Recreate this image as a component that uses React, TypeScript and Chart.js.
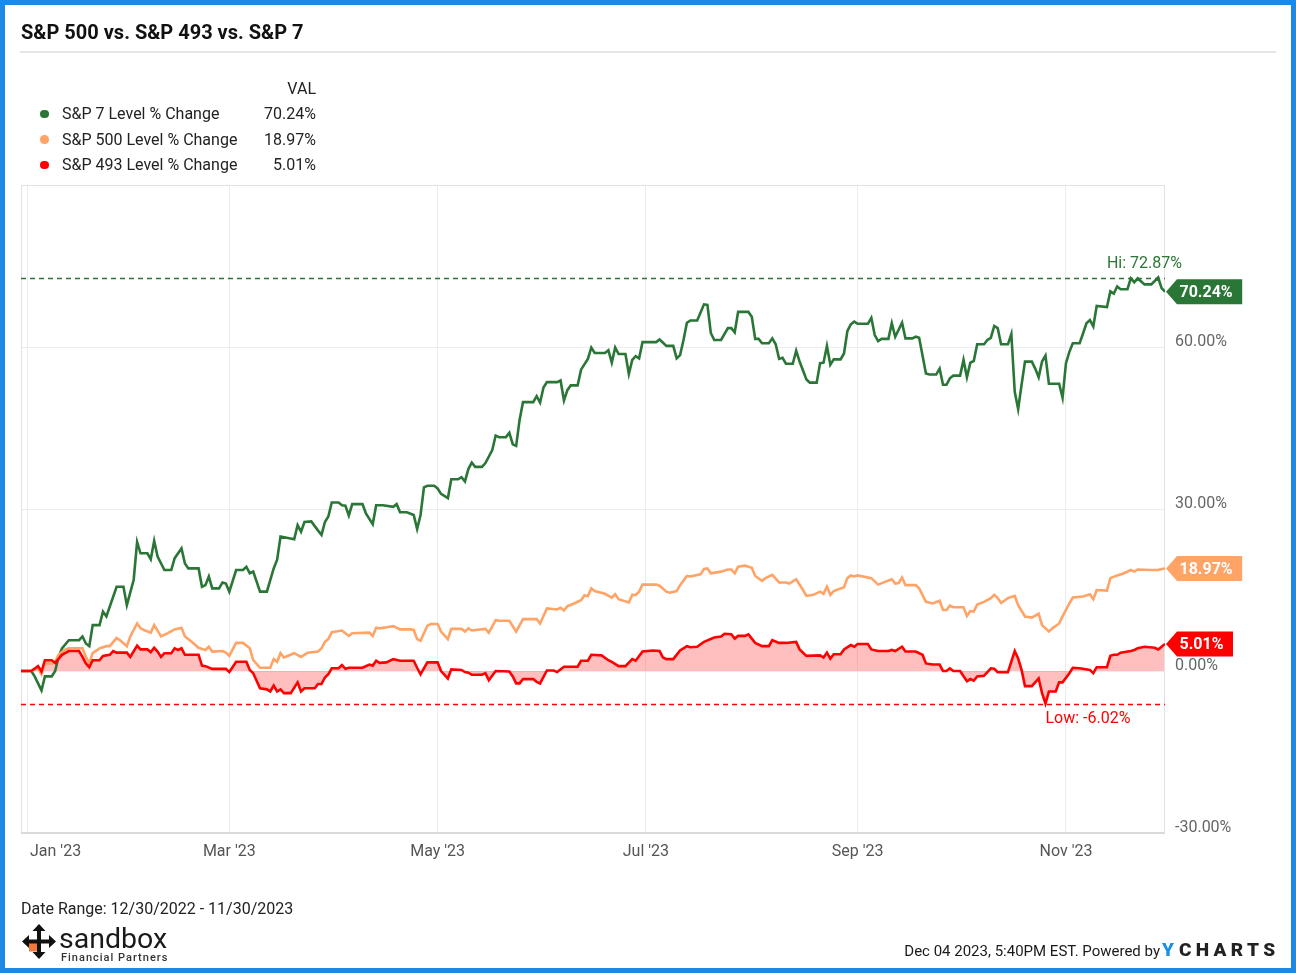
import React, { useEffect, useRef } from 'react';
import { Chart, registerables } from 'chart.js';

Chart.register(...registerables);

// ---------- data ----------
// x values are calendar days since 12/30/2022
const monthTickDays = [2, 61, 122, 183, 245, 306];
const monthTickLabels = ["Jan '23", "Mar '23", "May '23", "Jul '23", "Sep '23", "Nov '23"];

const seriesNames = ['S&P 7 Level % Change', 'S&P 500 Level % Change', 'S&P 493 Level % Change'];
const seriesColors = ['#2a7636', '#ffa366', '#ff0000'];

const sp7Days = [
  0, 3, 4, 6, 7, 9, 10, 11, 12, 14,
  17, 18, 19, 20, 21, 23, 24, 25, 28, 30,
  31, 33, 34, 35, 37, 38, 39, 40, 42, 44,
  45, 47, 48, 49, 52, 53, 54, 55, 56, 58,
  59, 60, 61, 63, 65, 66, 67, 68, 70, 72,
  74, 75, 76, 80, 81, 82, 83, 85, 87, 88,
  89, 90, 91, 93, 94, 95, 96, 97, 100, 101,
  103, 104, 106, 109, 110, 111, 113, 115, 116, 117,
  118, 119, 121, 122, 123, 125, 126, 128, 129, 130,
  131, 132, 133, 135, 136, 138, 139, 140, 142, 143,
  144, 145, 146, 147, 150, 151, 152, 153, 154, 157,
  158, 159, 160, 161, 163, 164, 166, 167, 168, 171,
  172, 173, 174, 175, 177, 178, 179, 180, 181, 182,
  186, 187, 189, 191, 192, 193, 194, 195, 196, 198,
  199, 200, 201, 202, 203, 205, 207, 208, 209, 210,
  213, 214, 215, 216, 217, 219, 220, 221, 222, 223,
  224, 226, 227, 228, 230, 231, 233, 234, 235, 236,
  237, 238, 240, 241, 242, 243, 244, 245, 248, 249,
  250, 251, 252, 254, 255, 256, 258, 259, 261, 262,
  263, 265, 266, 268, 269, 270, 271, 272, 273, 275,
  276, 277, 278, 279, 280, 282, 283, 284, 285, 286,
  287, 289, 290, 291, 292, 293, 294, 296, 297, 298,
  299, 300, 301, 304, 305, 306, 307, 308, 310, 311,
  312, 313, 314, 315, 318, 319, 320, 321, 322, 324,
  325, 326, 327, 329, 331, 333, 334, 335,
];
const sp7Values = [
  0, 0, -1.0, -3.6, -1.0, -1.0, 0, 2.6, 4.2, 5.7,
  5.7, 6.4, 5.1, 4.6, 8.5, 8.5, 11.0, 10.1, 15.6, 15.6,
  12.2, 16.9, 23.9, 21.8, 21.8, 20.7, 24.1, 21.2, 18.7, 18.7,
  20.9, 22.7, 19.9, 19.0, 19.0, 15.6, 15.9, 17.5, 15.3, 15.3,
  16.4, 16.2, 14.7, 18.7, 18.7, 19.3, 18.1, 18.4, 14.7, 14.7,
  19.0, 20.6, 24.9, 24.4, 27.0, 25.8, 27.6, 27.7, 26.0, 25.2,
  27.6, 28.6, 31.2, 31.2, 30.7, 30.6, 28.8, 30.9, 30.9, 29.2,
  27.2, 30.7, 30.7, 30.4, 30.9, 29.4, 29.4, 28.9, 26.3, 28.9,
  34.0, 34.3, 34.3, 33.8, 32.8, 32.0, 35.5, 35.5, 35.9, 35.1,
  37.4, 38.6, 37.8, 37.8, 38.5, 40.9, 43.6, 43.3, 43.3, 44.1,
  42.0, 41.7, 46.5, 49.8, 49.8, 50.9, 49.7, 52.5, 53.5, 53.5,
  53.8, 50.1, 52.0, 52.9, 52.9, 55.8, 57.8, 59.9, 58.9, 58.9,
  59.4, 57.1, 59.9, 58.7, 58.7, 55.0, 57.6, 58.3, 57.9, 60.9,
  60.9, 61.4, 60.2, 60.2, 57.9, 58.5, 61.3, 64.5, 64.9, 64.9,
  66.4, 67.9, 67.8, 62.6, 61.3, 61.3, 63.5, 63.5, 62.7, 66.5,
  66.5, 65.6, 61.5, 61.5, 60.7, 60.7, 61.6, 60.5, 57.8, 58.0,
  56.9, 56.9, 59.3, 57.3, 54.0, 53.4, 53.4, 57.0, 57.1, 60.2,
  56.7, 57.7, 57.7, 58.8, 63.0, 64.2, 64.7, 64.3, 64.3, 65.4,
  62.2, 61.1, 61.5, 61.5, 64.4, 61.9, 64.5, 61.6, 61.6, 61.9,
  61.7, 55.1, 54.9, 54.9, 56.0, 53.0, 53.0, 54.2, 54.7, 54.7,
  57.6, 54.4, 57.1, 57.4, 60.5, 60.5, 61.3, 61.7, 63.9, 63.5,
  60.5, 60.5, 62.4, 51.7, 48.5, 53.0, 57.3, 57.3, 56.0, 54.4,
  57.3, 58.4, 53.2, 53.2, 50.6, 57.0, 59.1, 60.7, 60.7, 62.5,
  64.4, 65.0, 63.8, 67.6, 67.4, 70.3, 69.9, 71.2, 70.7, 70.7,
  72.7, 72.0, 72.7, 71.6, 71.6, 72.87, 70.9, 70.24,
];

const sp500Days = [
  0, 3, 5, 6, 7, 9, 10, 11, 13, 14,
  18, 19, 20, 21, 23, 25, 26, 28, 29, 31,
  32, 34, 35, 36, 38, 39, 41, 43, 45, 47,
  48, 50, 52, 54, 55, 56, 59, 60, 61, 63,
  65, 67, 68, 70, 73, 74, 75, 76, 77, 80,
  82, 84, 87, 88, 89, 90, 91, 94, 96, 97,
  102, 103, 104, 105, 108, 109, 111, 114, 115, 116,
  117, 119, 120, 122, 123, 125, 126, 129, 130, 131,
  132, 136, 137, 139, 140, 143, 145, 147, 151, 152,
  154, 157, 158, 159, 160, 162, 164, 165, 166, 167,
  168, 171, 173, 174, 175, 178, 179, 180, 181, 182,
  186, 187, 189, 190, 192, 193, 195, 196, 199, 200,
  201, 202, 205, 207, 208, 209, 210, 212, 214, 215,
  217, 218, 220, 222, 224, 225, 227, 229, 230, 232,
  234, 235, 236, 237, 238, 241, 242, 243, 244, 245,
  249, 251, 253, 255, 256, 257, 258, 259, 262, 263,
  265, 267, 269, 270, 271, 272, 273, 276, 277, 278,
  279, 280, 282, 284, 285, 286, 287, 289, 291, 292,
  294, 296, 298, 299, 301, 302, 304, 305, 307, 308,
  311, 313, 314, 315, 318, 319, 321, 323, 325, 326,
  327, 331, 333, 334, 335,
];
const sp500Values = [
  0, 0, 0.5, -0.6, 1.4, 1.4, 1.7, 3.0, 4.0, 4.2,
  4.2, 2.6, 1.4, 3.3, 4.2, 4.6, 4.6, 6.1, 5.7, 4.6,
  6.4, 8.8, 7.9, 7.6, 7.1, 8.5, 6.4, 7.0, 7.7, 8.0,
  6.4, 5.4, 4.3, 3.9, 4.5, 3.6, 3.7, 3.4, 2.8, 5.2,
  5.2, 4.2, 2.0, 0.6, 0.6, 2.2, 1.7, 3.3, 2.5, 3.3,
  2.6, 3.4, 3.6, 4.2, 5.4, 5.9, 7.2, 7.5, 6.5, 7.0,
  7.1, 6.5, 8.0, 7.9, 8.2, 8.3, 7.7, 7.7, 7.6, 5.9,
  5.6, 8.4, 8.7, 8.7, 7.3, 5.9, 7.8, 7.8, 7.3, 7.9,
  7.5, 7.8, 7.1, 9.4, 9.3, 9.3, 7.3, 9.6, 9.6, 8.8,
  11.6, 11.4, 11.7, 11.2, 12.0, 12.5, 13.1, 14.0, 13.9, 15.3,
  14.8, 14.3, 13.6, 14.2, 13.3, 12.7, 14.1, 14.1, 14.7, 16.0,
  16.0, 15.8, 14.7, 14.5, 14.8, 15.9, 17.6, 17.5, 17.9, 18.9,
  19.0, 18.1, 18.4, 18.8, 18.8, 18.1, 19.3, 19.5, 19.1, 17.6,
  16.7, 17.2, 17.8, 16.4, 16.4, 16.2, 17.0, 15.0, 13.9, 14.1,
  14.7, 14.3, 15.6, 14.1, 14.8, 15.5, 17.2, 17.7, 17.5, 17.7,
  17.2, 16.0, 16.5, 17.0, 16.2, 16.3, 17.3, 15.9, 15.9, 15.3,
  12.8, 12.5, 13.0, 11.3, 11.3, 12.1, 11.8, 11.8, 10.2, 11.1,
  11.0, 12.3, 12.8, 13.5, 14.1, 13.5, 12.6, 13.5, 13.9, 12.2,
  10.1, 9.9, 10.6, 8.5, 7.3, 7.9, 8.8, 10.1, 12.5, 13.6,
  13.8, 14.2, 13.3, 15.0, 14.9, 17.2, 17.7, 18.1, 18.7, 18.4,
  18.8, 18.7, 18.7, 18.9, 18.97,
];

const sp493Days = [
  0, 3, 5, 6, 7, 9, 10, 12, 14, 17,
  18, 19, 20, 21, 23, 24, 26, 27, 28, 31,
  32, 34, 35, 37, 38, 39, 40, 41, 42, 44,
  45, 46, 47, 48, 52, 53, 54, 56, 60, 61,
  63, 66, 67, 68, 70, 72, 73, 74, 75, 76,
  77, 79, 81, 82, 83, 86, 87, 88, 89, 90,
  91, 93, 94, 95, 96, 100, 102, 103, 104, 105,
  107, 109, 111, 115, 116, 117, 119, 122, 123, 125,
  126, 129, 130, 131, 132, 135, 136, 137, 139, 143,
  144, 145, 146, 147, 150, 151, 152, 154, 156, 157,
  159, 163, 164, 166, 167, 170, 172, 173, 175, 177,
  179, 180, 182, 185, 187, 188, 189, 191, 193, 195,
  196, 198, 200, 203, 205, 206, 208, 209, 210, 212,
  213, 214, 215, 217, 219, 220, 222, 224, 227, 228,
  230, 234, 235, 236, 237, 238, 240, 241, 243, 244,
  245, 248, 249, 251, 254, 255, 256, 258, 259, 262,
  264, 265, 267, 269, 270, 271, 272, 273, 275, 277,
  278, 279, 280, 282, 284, 285, 286, 289, 291, 292,
  293, 294, 296, 298, 299, 300, 301, 303, 304, 305,
  307, 308, 310, 313, 314, 315, 318, 319, 320, 321,
  322, 325, 326, 327, 329, 332, 333, 334, 335,
];
const sp493Values = [
  0, 0, 0.9, -0.1, 2.0, 2.0, 1.5, 3.0, 3.7, 3.7,
  2.6, 1.4, 0.7, 2.0, 2.0, 2.8, 3.0, 3.7, 3.4, 3.4,
  2.6, 4.7, 4.0, 4.0, 3.5, 4.3, 3.6, 2.6, 3.3, 3.3,
  4.2, 3.9, 4.2, 3.0, 3.0, 1.0, 0.9, 0.4, 0.4, -0.2,
  1.7, 1.7, 0.2, -0.4, -3.2, -3.4, -3.8, -2.7, -3.8, -3.4,
  -4.1, -4.1, -2.1, -3.8, -3.2, -3.2, -2.4, -2.4, -1.2, -0.6,
  0.5, 0.5, 1.1, 0.4, 0.6, 0.6, 1.2, 1.0, 1.9, 1.5,
  1.6, 2.2, 1.9, 1.9, 0.6, -0.6, 1.6, 1.6, 0.0, -1.4,
  0.3, 0.2, -0.2, -0.3, -0.7, -0.7, -0.4, -1.7, 0.0, -0.1,
  -1.0, -2.3, -2.3, -1.5, -1.5, -2.0, -2.3, 0.1, 0.1, -0.2,
  0.8, 0.8, 1.9, 1.9, 3.0, 2.9, 2.0, 1.7, 0.9, 0.9,
  2.2, 1.9, 3.6, 3.8, 3.7, 2.5, 2.2, 2.2, 3.8, 4.6,
  4.4, 4.5, 5.4, 6.2, 6.4, 6.9, 6.8, 6.0, 6.5, 6.5,
  6.8, 6.0, 5.2, 4.6, 4.6, 5.7, 5.2, 5.2, 5.4, 4.0,
  2.8, 2.9, 2.5, 3.4, 2.3, 3.1, 3.1, 4.0, 4.8, 4.5,
  5.0, 5.0, 4.0, 3.7, 3.7, 3.9, 3.7, 4.5, 3.6, 3.6,
  3.0, 1.4, 1.2, 1.2, 0.0, 0.0, 0.5, 0.0, 0.0, -1.9,
  -1.5, -1.8, -1.0, -0.9, 0.5, 0.4, -0.2, -0.2, 3.7, 2.3,
  0.2, -2.8, -2.8, -1.4, -4.1, -6.02, -3.8, -3.8, -2.1, -2.1,
  -0.4, 0.6, 0.5, 0.2, -0.4, 0.7, 0.7, 2.8, 3.0, 3.0,
  3.4, 3.7, 3.9, 4.2, 4.5, 4.3, 4.0, 4.5, 5.01,
];

const FONT = 'Roboto';

const toPoints = (days: number[], values: number[]) => days.map((d, i) => ({ x: d, y: values[i] }));
const lastOf = (a: number[]) => a[a.length - 1];
const fmtPct = (v: number) => v.toFixed(2) + '%';

const overlayPlugin = {
  id: 'overlay',
  beforeDatasetsDraw(chart: any) {
    const { ctx, chartArea: a } = chart;
    ctx.save();
    ctx.strokeStyle = '#e2e2e2';
    ctx.lineWidth = 1;
    ctx.strokeRect(a.left + 0.5, a.top + 0.5, a.right - a.left - 1, a.bottom - a.top - 1);
    ctx.strokeStyle = '#dadada';
    ctx.lineWidth = 2;
    ctx.beginPath();
    ctx.moveTo(a.left, a.bottom);
    ctx.lineTo(a.right, a.bottom);
    ctx.stroke();
    ctx.restore();
  },
  afterDatasetsDraw(chart: any) {
    const { ctx, chartArea: a, scales } = chart;
    const xs = scales.x;
    const ys = scales.y;
    ctx.save();

    // Hi line (S&P 7) and Low line (S&P 493)
    const hi = Math.max(...sp7Values);
    const hiIdx = sp7Values.lastIndexOf(hi);
    const lo = Math.min(...sp493Values);
    const loIdx = sp493Values.indexOf(lo);
    const hiY = Math.round(ys.getPixelForValue(hi)) + 0.5;
    const loY = Math.round(ys.getPixelForValue(lo)) + 0.5;
    ctx.setLineDash([5, 4]);
    ctx.lineWidth = 1.3;
    ctx.strokeStyle = seriesColors[0];
    ctx.beginPath();
    ctx.moveTo(a.left, hiY);
    ctx.lineTo(a.right, hiY);
    ctx.stroke();
    ctx.strokeStyle = seriesColors[2];
    ctx.beginPath();
    ctx.moveTo(a.left, loY);
    ctx.lineTo(a.right, loY);
    ctx.stroke();
    ctx.setLineDash([]);

    ctx.font = `16px ${FONT}`;
    ctx.textBaseline = 'alphabetic';
    ctx.textAlign = 'left';
    const hiText = 'Hi: ' + fmtPct(hi);
    const hiW = ctx.measureText(hiText).width;
    const hiX = Math.min(xs.getPixelForValue(sp7Days[hiIdx]), a.right + 17 - hiW);
    ctx.fillStyle = seriesColors[0];
    ctx.fillText(hiText, hiX, hiY - 10.5);
    const loText = 'Low: ' + fmtPct(lo);
    const loW = ctx.measureText(loText).width;
    const loX = Math.min(xs.getPixelForValue(sp493Days[loIdx]), a.right + 17 - loW);
    ctx.fillStyle = seriesColors[2];
    ctx.fillText(loText, loX, loY + 18.5);

    // end-value tags
    const ends = [lastOf(sp7Values), lastOf(sp500Values), lastOf(sp493Values)];
    ctx.font = `bold 16px ${FONT}`;
    ctx.textBaseline = 'middle';
    ctx.textAlign = 'center';
    ends.forEach((v, i) => {
      const y = ys.getPixelForValue(v);
      const text = fmtPct(v);
      const w = ctx.measureText(text).width;
      const tip = a.right + 1;
      const boxL = tip + 11;
      const boxR = tip + w + 23;
      const h = 12.5;
      ctx.fillStyle = seriesColors[i];
      ctx.beginPath();
      ctx.moveTo(tip, y);
      ctx.lineTo(boxL, y - h);
      ctx.lineTo(boxR, y - h);
      ctx.lineTo(boxR, y + h);
      ctx.lineTo(boxL, y + h);
      ctx.closePath();
      ctx.fill();
      ctx.fillStyle = '#ffffff';
      ctx.fillText(text, (tip + boxR) / 2 + 2, y + 1);
    });
    ctx.restore();
  },
  afterDraw(chart: any) {
    const { ctx, chartArea: a, scales } = chart;
    const xs = scales.x;
    ctx.save();
    ctx.font = `16px ${FONT}`;
    ctx.fillStyle = '#555555';
    ctx.textAlign = 'center';
    ctx.textBaseline = 'alphabetic';
    monthTickDays.forEach((d, i) => {
      const text = monthTickLabels[i];
      const w = ctx.measureText(text).width;
      let cx = xs.getPixelForValue(d);
      if (cx - w / 2 < a.left + 9) cx = a.left + 9 + w / 2;
      ctx.fillText(text, cx, a.bottom + 23);
    });
    ctx.restore();
  },
};

function SandboxIcon() {
  return (
    <svg width={34} height={35} viewBox="0 0 34 35" style={{ position: 'absolute', left: 22, top: 924 }}>
      <rect x={7} y={18} width={8.5} height={9.5} fill="#f07a3a" />
      <rect x={15} y={5} width={4} height={25} fill="#111" />
      <rect x={5} y={15.5} width={24} height={4} fill="#111" />
      <polygon points="17,0 10.5,7 23.5,7" fill="#111" />
      <polygon points="17,35 10.5,28 23.5,28" fill="#111" />
      <polygon points="0,17.5 7,11 7,24" fill="#111" />
      <polygon points="34,17.5 27,11 27,24" fill="#111" />
    </svg>
  );
}

export default function App() {
  const canvasRef = useRef<HTMLCanvasElement | null>(null);

  useEffect(() => {
    const canvas = canvasRef.current;
    if (!canvas) return;
    Chart.defaults.font.family = FONT;
    const chart = new Chart(canvas, {
      type: 'line',
      data: {
        datasets: [
          {
            label: seriesNames[2],
            data: toPoints(sp493Days, sp493Values),
            borderColor: seriesColors[2],
            backgroundColor: 'rgba(255, 0, 0, 0.25)',
            fill: 'origin',
            borderWidth: 2.6,
            pointRadius: 0,
            tension: 0,
          },
          {
            label: seriesNames[1],
            data: toPoints(sp500Days, sp500Values),
            borderColor: seriesColors[1],
            backgroundColor: seriesColors[1],
            fill: false,
            borderWidth: 2.6,
            pointRadius: 0,
            tension: 0,
          },
          {
            label: seriesNames[0],
            data: toPoints(sp7Days, sp7Values),
            borderColor: seriesColors[0],
            backgroundColor: seriesColors[0],
            fill: false,
            borderWidth: 2.6,
            pointRadius: 0,
            tension: 0,
          },
        ],
      },
      options: {
        animation: false,
        responsive: false,
        maintainAspectRatio: false,
        parsing: false as any,
        normalized: true,
        layout: { padding: { left: 21, top: 185, right: 0, bottom: 0 } },
        plugins: {
          legend: { display: false },
          tooltip: { enabled: false },
          filler: { drawTime: 'beforeDatasetsDraw' } as any,
        },
        scales: {
          x: {
            type: 'linear',
            min: 0,
            max: 335,
            afterBuildTicks: (scale: any) => {
              scale.ticks = monthTickDays.map((v) => ({ value: v }));
            },
            afterFit: (scale: any) => {
              scale.height = 140;
            },
            ticks: { display: false },
            grid: { color: '#ececec', drawTicks: false, lineWidth: 1 },
            border: { display: false },
          },
          y: {
            position: 'right',
            min: -30,
            max: 90,
            afterFit: (scale: any) => {
              scale.width = 131;
            },
            ticks: {
              stepSize: 30,
              padding: 10,
              labelOffset: -5,
              color: '#666666',
              font: { family: FONT, size: 16 },
              callback: (v: any) => (Number(v) === 90 ? '' : Number(v).toFixed(2) + '%'),
            },
            grid: { color: '#ececec', drawTicks: false, lineWidth: 1 },
            border: { display: false },
          },
        },
      },
      plugins: [overlayPlugin],
    });
    const fonts = (document as any).fonts;
    if (fonts && fonts.ready) fonts.ready.then(() => chart.update());
    return () => chart.destroy();
  }, []);

  const legendRowTops = [106, 131.5, 157];
  const legendValues = [lastOf(sp7Values), lastOf(sp500Values), lastOf(sp493Values)];

  return (
    <div
      style={{
        position: 'fixed',
        left: 0,
        top: 0,
        width: 1296,
        height: 973,
        overflow: 'hidden',
        background: '#ffffff',
        fontFamily: FONT,
        color: '#222222',
      }}
    >
      <canvas
        ref={canvasRef}
        width={1296}
        height={973}
        style={{ position: 'absolute', left: 0, top: 0, width: 1296, height: 973 }}
      />

      <div
        style={{
          position: 'absolute',
          left: 21,
          top: 22,
          fontSize: 20,
          lineHeight: '20px',
          fontWeight: 700,
          color: '#111111',
          whiteSpace: 'nowrap',
        }}
      >
        S&amp;P 500 vs. S&amp;P 493 vs. S&amp;P 7
      </div>
      <div style={{ position: 'absolute', left: 20, top: 51, width: 1256, height: 2, background: '#e6e6e6' }} />

      <div
        style={{
          position: 'absolute',
          left: 200,
          width: 116,
          top: 80.5,
          fontSize: 16,
          lineHeight: '16px',
          textAlign: 'right',
        }}
      >
        VAL
      </div>
      {seriesNames.map((name, i) => (
        <React.Fragment key={name}>
          <div
            style={{
              position: 'absolute',
              left: 40,
              top: legendRowTops[i] + 3.5,
              width: 8.5,
              height: 8.5,
              borderRadius: '50%',
              background: seriesColors[i],
            }}
          />
          <div
            style={{
              position: 'absolute',
              left: 62,
              top: legendRowTops[i],
              fontSize: 16,
              lineHeight: '16px',
              whiteSpace: 'nowrap',
            }}
          >
            {name}
          </div>
          <div
            style={{
              position: 'absolute',
              left: 230,
              width: 86,
              top: legendRowTops[i],
              fontSize: 16,
              lineHeight: '16px',
              textAlign: 'right',
            }}
          >
            {fmtPct(legendValues[i])}
          </div>
        </React.Fragment>
      ))}

      <div
        style={{
          position: 'absolute',
          left: 21,
          top: 901,
          fontSize: 16,
          lineHeight: '16px',
          whiteSpace: 'nowrap',
        }}
      >
        Date Range: 12/30/2022 - 11/30/2023
      </div>

      <SandboxIcon />
      <div
        style={{
          position: 'absolute',
          left: 59,
          top: 923.5,
          fontSize: 28.5,
          lineHeight: '29px',
          color: '#1a1a1a',
          whiteSpace: 'nowrap',
        }}
      >
        sandbox
      </div>
      <div
        style={{
          position: 'absolute',
          left: 61,
          top: 952,
          fontSize: 11,
          lineHeight: '11px',
          fontWeight: 500,
          letterSpacing: 1,
          color: '#333333',
          whiteSpace: 'nowrap',
        }}
      >
        Financial Partners
      </div>

      <div
        style={{
          position: 'absolute',
          right: 136,
          top: 943.5,
          fontSize: 15,
          lineHeight: '15px',
          whiteSpace: 'nowrap',
          color: '#1a1a1a',
        }}
      >
        Dec 04 2023, 5:40PM EST. Powered by
      </div>
      <div
        style={{
          position: 'absolute',
          left: 1162,
          top: 940,
          fontSize: 19,
          lineHeight: '19px',
          fontWeight: 900,
          whiteSpace: 'nowrap',
        }}
      >
        <span style={{ color: '#1a8fe8' }}>Y</span>
        <span style={{ color: '#222222', letterSpacing: 4.3, marginLeft: 5 }}>CHARTS</span>
      </div>

      <div
        style={{
          position: 'absolute',
          left: 0,
          top: 0,
          width: 1296,
          height: 973,
          boxSizing: 'border-box',
          border: '5px solid #1e88e5',
          pointerEvents: 'none',
        }}
      />
    </div>
  );
}
